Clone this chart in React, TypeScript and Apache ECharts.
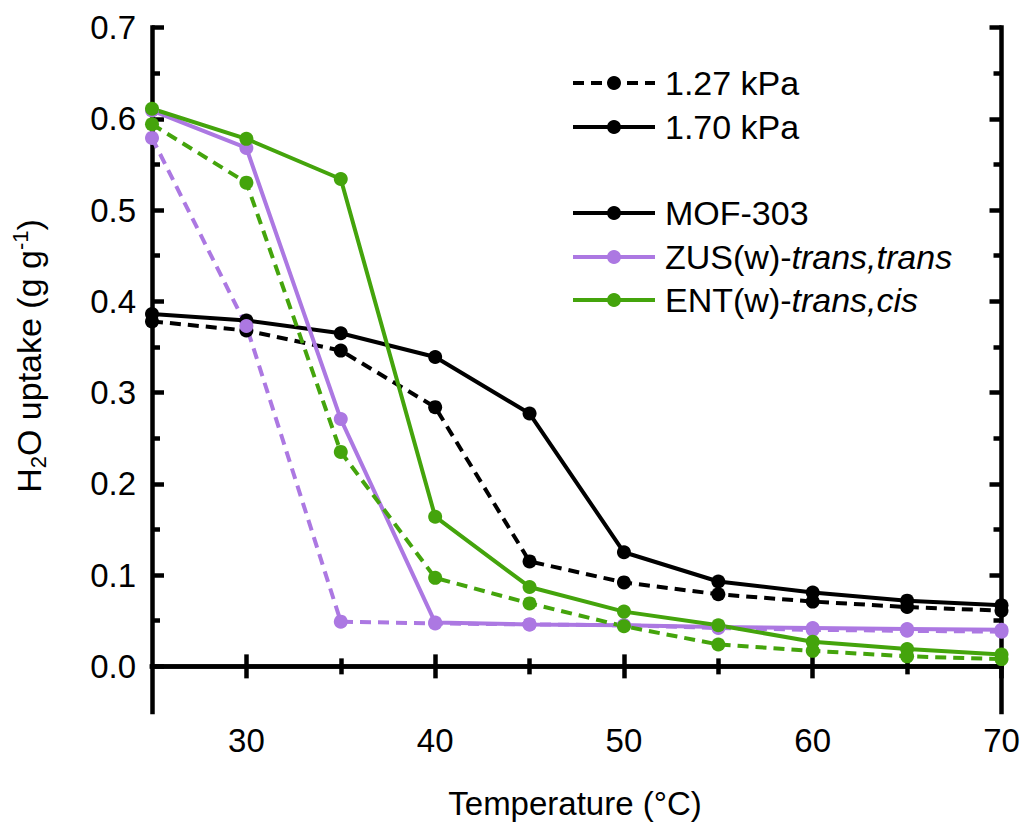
import React, { useEffect, useRef } from "react";
import * as echarts from "echarts";

const temps = [25, 30, 35, 40, 45, 50, 55, 60, 65, 70];
const mof170 = [0.386, 0.379, 0.365, 0.339, 0.277, 0.125, 0.093, 0.081, 0.072, 0.067];
const mof127 = [0.378, 0.368, 0.346, 0.284, 0.115, 0.092, 0.079, 0.071, 0.065, 0.061];
const zus170 = [0.609, 0.568, 0.271, 0.048, 0.046, 0.045, 0.043, 0.042, 0.041, 0.040];
const zus127 = [0.579, 0.373, 0.049, 0.047, 0.046, 0.045, 0.042, 0.040, 0.039, 0.038];
const ent170 = [0.611, 0.578, 0.534, 0.164, 0.087, 0.060, 0.045, 0.027, 0.019, 0.013];
const ent127 = [0.594, 0.530, 0.235, 0.097, 0.069, 0.044, 0.024, 0.017, 0.011, 0.008];

const xMajor = [30, 40, 50, 60, 70];
const xMinor = [35, 45, 55, 65];
const yMajor = [0, 0.1, 0.2, 0.3, 0.4, 0.5, 0.6, 0.7];
const yMinor = [0.05, 0.15, 0.25, 0.35, 0.45, 0.55, 0.65];

const BLACK = "#000000";
const PURPLE = "#ac78e2";
const GREEN = "#44a40c";
const FONT = "Liberation Sans, Arial, Helvetica, sans-serif";

function zip(vals: number[]) {
  return temps.map((t, i) => [t, vals[i]]);
}

export default function App() {
  const ref = useRef<HTMLDivElement>(null);
  useEffect(() => {
    if (!ref.current) return;
    const chart = echarts.init(ref.current, undefined, { renderer: "svg" });

    const axisLine = { show: true, lineStyle: { color: BLACK, width: 4.5, cap: "square" } };
    const mkX = (pos: string, major: boolean, labels: boolean) => ({
      type: "value",
      position: pos,
      min: 25,
      max: 70,
      axisLine: major ? axisLine : { show: false },
      splitLine: { show: false },
      axisTick: {
        show: true,
        inside: true,
        length: major ? 12 : 8,
        lineStyle: { color: BLACK, width: 4.5 },
        customValues: major ? xMajor : xMinor,
      },
      axisLabel: labels
        ? { show: true, customValues: xMajor, fontSize: 33, color: BLACK, fontFamily: FONT, margin: 12 }
        : { show: false },
    });
    const mkY = (pos: string, major: boolean, labels: boolean) => ({
      type: "value",
      position: pos,
      min: -0.05,
      max: 0.7,
      axisLine: major ? axisLine : { show: false },
      splitLine: { show: false },
      axisTick: {
        show: true,
        inside: true,
        length: major ? 12 : 8,
        lineStyle: { color: BLACK, width: 4.5 },
        customValues: major ? yMajor : yMinor,
      },
      axisLabel: labels
        ? {
            show: true,
            customValues: yMajor,
            fontSize: 33,
            color: BLACK,
            fontFamily: FONT,
            margin: 16,
            formatter: (v: number) => v.toFixed(1),
          }
        : { show: false },
    });

    const mkSeries = (name: string, vals: number[], color: string, dashed: boolean) => ({
      name,
      type: "line",
      xAxisIndex: 0,
      yAxisIndex: 0,
      data: zip(vals),
      symbol: "circle",
      symbolSize: 14,
      itemStyle: { color },
      lineStyle: { color, width: 4, type: dashed ? [11, 7] : "solid" },
      z: 3,
    });

    const legendItems = [
      { label: "1.27 kPa", color: BLACK, dashed: true, y: 83 },
      { label: "1.70 kPa", color: BLACK, dashed: false, y: 127 },
      { label: "MOF-303", color: BLACK, dashed: false, y: 213 },
      { label: "ZUS(w)-{i|trans,trans}", color: PURPLE, dashed: false, y: 257 },
      { label: "ENT(w)-{i|trans,cis}", color: GREEN, dashed: false, y: 300 },
    ];
    const legendGraphics: any[] = [];
    legendItems.forEach((it) => {
      legendGraphics.push({
        type: "line",
        shape: { x1: 573, y1: it.y, x2: 655, y2: it.y },
        style: { stroke: it.color, lineWidth: 4, lineDash: it.dashed ? [11, 7] : null },
        z: 10,
      });
      legendGraphics.push({
        type: "circle",
        shape: { cx: 614, cy: it.y, r: 7 },
        style: { fill: it.color },
        z: 10,
      });
      legendGraphics.push({
        type: "text",
        x: 665,
        y: it.y,
        style: {
          text: it.label,
          fontSize: 34,
          fontFamily: FONT,
          fill: BLACK,
          verticalAlign: "middle",
          align: "left",
          rich: { i: { fontSize: 34, fontFamily: FONT, fontStyle: "italic", fill: BLACK } },
        },
        z: 10,
      });
    });

    chart.setOption({
      animation: false,
      backgroundColor: "#ffffff",
      grid: { left: 152, right: 23.5, top: 27.5, bottom: 113, containLabel: false },
      xAxis: [
        mkX("bottom", true, true),
        mkX("bottom", false, false),
        mkX("top", true, false),
        mkX("top", false, false),
      ],
      yAxis: [
        mkY("left", true, true),
        mkY("left", false, false),
        mkY("right", true, false),
        mkY("right", false, false),
      ],
      series: [
        mkSeries("MOF-303 1.70 kPa", mof170, BLACK, false),
        mkSeries("MOF-303 1.27 kPa", mof127, BLACK, true),
        mkSeries("ZUS 1.70 kPa", zus170, PURPLE, false),
        mkSeries("ZUS 1.27 kPa", zus127, PURPLE, true),
        mkSeries("ENT 1.70 kPa", ent170, GREEN, false),
        mkSeries("ENT 1.27 kPa", ent127, GREEN, true),
      ],
      graphic: [
        ...legendGraphics,
        {
          type: "text",
          x: 575,
          y: 803,
          style: {
            text: "Temperature (°C)",
            fontSize: 33,
            fontFamily: FONT,
            fill: BLACK,
            align: "center",
            verticalAlign: "middle",
          },
        },
        {
          type: "text",
          x: 29,
          y: 356,
          rotation: Math.PI / 2,
          style: {
            text: "{n|H}{sub|2}{n|O uptake (g g}{sup|-1}{n|)}",
            align: "center",
            verticalAlign: "middle",
            fill: BLACK,
            rich: {
              n: { fontSize: 34, fontFamily: FONT, fill: BLACK, lineHeight: 40, verticalAlign: "middle" },
              sub: { fontSize: 22, fontFamily: FONT, fill: BLACK, lineHeight: 40, verticalAlign: "bottom" },
              sup: { fontSize: 22, fontFamily: FONT, fill: BLACK, lineHeight: 40, verticalAlign: "top" },
            },
          },
        },
      ],
    });
    return () => chart.dispose();
  }, []);
  return <div ref={ref} style={{ width: 1025, height: 825, position: "absolute", left: 0, top: 0 }} />;
}
